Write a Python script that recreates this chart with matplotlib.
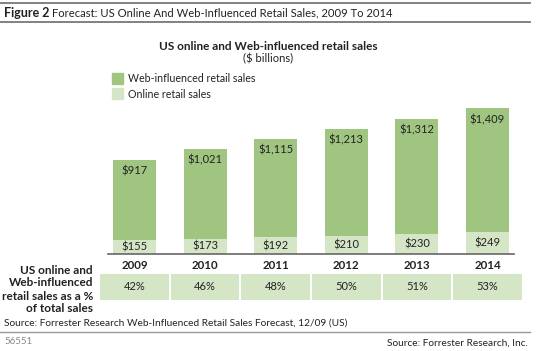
import matplotlib
matplotlib.use("Agg")
import matplotlib.pyplot as plt
from matplotlib.patches import Rectangle
from matplotlib.lines import Line2D

plt.rcParams['font.family'] = ['Lato', 'DejaVu Sans']

# data
years = ['2009', '2010', '2011', '2012', '2013', '2014']
online = [155, 173, 192, 210, 230, 249]
web = [917, 1021, 1115, 1213, 1312, 1409]
share = ['42%', '46%', '48%', '50%', '51%', '53%']

dark = '#9fc581'
light = '#d5e6c6'
txt = '#222222'

W, H = 536, 351
fig = plt.figure(figsize=(W / 100, H / 100), dpi=100)

def fx(px):
    return px / W

def fy(py):
    return 1 - py / H

def ptext(x, y, s, **kw):
    fig.text(fx(x), fy(y), s, **kw)

# header
fig.add_artist(Line2D([0, fx(530)], [fy(3), fy(3)], color='#777777', lw=1.3))
fig.add_artist(Line2D([0, fx(530)], [fy(22), fy(22)], color='#777777', lw=1.3))
ptext(4, 13, 'Figure 2', fontsize=9, fontweight='bold', color=txt, va='center')
ptext(52, 13, 'Forecast: US Online And Web-Influenced Retail Sales, 2009 To 2014',
      fontsize=8.1, color=txt, va='center')

# chart title
ptext(268, 46, 'US online and Web-influenced retail sales', fontsize=8.5,
      fontweight='bold', color=txt, ha='center', va='center')
ptext(268, 59, '($ billions)', fontsize=8, color=txt, ha='center', va='center')

# bar axes: index 0 at 134.5px, 70.6px per step, baseline at 254px
step = 70.6
ax = fig.add_axes([fx(134.5 - 0.38 * step), fy(254), fx(0.76 * step + 5 * step), (254 - 100) / H])
x = list(range(len(years)))
ax.bar(x, online, width=0.61, color=light, label='Online retail sales')
ax.bar(x, web, width=0.61, bottom=online, color=dark, label='Web-influenced retail sales')
ax.set_xlim(-0.38, 5.38)
ax.set_ylim(0, 154 / 0.0878)
for i in x:
    ax.text(i, online[i] / 2, '$%d' % online[i], ha='center', va='center',
            fontsize=8, color=txt)
    ax.annotate('${:,}'.format(web[i]), (i, online[i] + web[i]), xytext=(0, -8),
                textcoords='offset points', ha='center', va='center', fontsize=8, color=txt)
for s in ['top', 'right', 'left']:
    ax.spines[s].set_visible(False)
ax.spines['bottom'].set_color('#666666')
ax.spines['bottom'].set_linewidth(1.2)
ax.set_yticks([])
ax.set_xticks(x)
ax.set_xticklabels(years, fontsize=8.3, fontweight='bold', color=txt)
ax.tick_params(axis='x', length=0, pad=4)

# legend
fig.add_artist(Rectangle((fx(112), fy(84)), fx(11), 11 / H, color=dark))
fig.add_artist(Rectangle((fx(112), fy(99)), fx(11), 11 / H, color=light))
ptext(128, 79, 'Web-influenced retail sales', fontsize=7.7, color=txt, va='center')
ptext(128, 94, 'Online retail sales', fontsize=7.7, color=txt, va='center')

# table row
ax2 = fig.add_axes([fx(134.5 - 0.5 * step), fy(300), fx(6 * step), 26 / H])
ax2.bar(x, [1] * 6, width=0.97, color=light)
ax2.set_xlim(-0.5, 5.5)
ax2.set_ylim(0, 1)
ax2.axis('off')
for i in x:
    ax2.text(i, 0.5, share[i], ha='center', va='center', fontsize=8, color=txt)

lab = ['US online and', 'Web-influenced', 'retail sales as a %', 'of total sales']
for k, s in enumerate(lab):
    ptext(93, 270 + 13 * k, s, fontsize=8.5, fontweight='bold', color=txt,
          ha='right', va='center')

# footer
ptext(4, 323, 'Source: Forrester Research Web-Influenced Retail Sales Forecast, 12/09 (US)',
      fontsize=7.3, color=txt, va='center')
fig.add_artist(Line2D([0, fx(530)], [fy(332), fy(332)], color='#999999', lw=1.0))
ptext(4, 342, '56551', fontsize=7, color='#888888', va='center')
ptext(528, 343, 'Source: Forrester Research, Inc.', fontsize=7.3, color=txt,
      ha='right', va='center')

fig.savefig('out.png', dpi=100)
